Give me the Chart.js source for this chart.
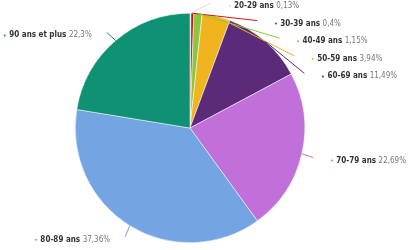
<!DOCTYPE html>
<html lang="fr">
<head>
    <meta charset="UTF-8">
    <title>Répartition par âge</title>
    <script src="https://cdn.jsdelivr.net/npm/chart.js"></script>
    <style>
        body { margin: 0; background: #fff; }
        #wrap { width: 416px; height: 250px; }
    </style>
</head>
<body>
    <div id="wrap"><canvas id="chartAge" width="416" height="250"></canvas></div>
    <script>
        // donnees
        let tranches = ["20-29 ans", "30-39 ans", "40-49 ans", "50-59 ans", "60-69 ans", "70-79 ans", "80-89 ans", "90 ans et plus"];
        let pourcentages = [0.13, 0.4, 1.15, 3.94, 11.49, 22.69, 37.36, 22.3];
        let couleurs = ["#dcdcdc", "#c8161d", "#8cc63f", "#f0b41e", "#5b2a78", "#c070d8", "#74a4e2", "#0e9273"];

        let police = "'DejaVu Sans Condensed', 'DejaVu Sans'";

        // etiquettes externes avec traits de liaison
        let etiquettes = {
            id: "etiquettes",
            afterDatasetsDraw(chart) {
                let ctx = chart.ctx;
                let arcs = chart.getDatasetMeta(0).data;
                let items = arcs.map((arc, i) => {
                    let mid = (arc.startAngle + arc.endAngle) / 2;
                    return { i, arc, mid, droite: Math.cos(mid) >= 0 };
                });
                let cx = arcs[0].x, cy = arcs[0].y, r = arcs[0].outerRadius;
                let R = r + 12;
                let ecart = 17.6;

                [true, false].forEach(cote => {
                    let groupe = items.filter(it => it.droite === cote);
                    groupe.forEach(it => { it.y = cy + R * Math.sin(it.mid) + 4; });
                    groupe.sort((a, b) => a.y - b.y);
                    let prev = -Infinity;
                    groupe.forEach(it => {
                        it.y = Math.max(it.y, prev + ecart, 6);
                        prev = it.y;
                    });
                });

                ctx.save();
                ctx.textBaseline = "middle";
                items.forEach(it => {
                    let couleur = couleurs[it.i];
                    let yFin = it.y - 3;
                    let dy = yFin - cy;
                    let dx = Math.sqrt(Math.max(0, R * R - dy * dy));
                    let xFin = it.droite ? cx + dx : cx - dx;
                    let xBord = cx + r * Math.cos(it.mid);
                    let yBord = cy + r * Math.sin(it.mid);

                    ctx.strokeStyle = couleur;
                    ctx.lineWidth = 1;
                    ctx.beginPath();
                    ctx.moveTo(xBord, yBord);
                    ctx.lineTo(xFin, yFin);
                    ctx.stroke();

                    let nom = tranches[it.i];
                    let val = String(pourcentages[it.i]).replace(".", ",") + "%";
                    ctx.font = "bold 8px " + police;
                    let wNom = ctx.measureText(nom + " ").width;
                    ctx.font = "8px " + police;
                    let wVal = ctx.measureText(val).width;

                    let xTexte = it.droite ? xFin + 23 : xFin - 15 - wNom - wVal;
                    ctx.fillStyle = couleur;
                    ctx.beginPath();
                    ctx.arc(xTexte - 4.5, it.y, 1, 0, Math.PI * 2);
                    ctx.fill();

                    ctx.font = "bold 8px " + police;
                    ctx.fillStyle = "#333";
                    ctx.fillText(nom, xTexte, it.y);
                    ctx.font = "8px " + police;
                    ctx.fillStyle = "#777";
                    ctx.fillText(val, xTexte + wNom, it.y);
                });
                ctx.restore();
            }
        };

        let ctx = document.getElementById("chartAge").getContext("2d");
        let chart = new Chart(ctx, {
            type: "pie",
            data: {
                labels: tranches,
                datasets: [{
                    data: pourcentages,
                    backgroundColor: couleurs,
                    borderColor: "#fff",
                    borderWidth: 0.5
                }]
            },
            options: {
                responsive: false,
                animation: false,
                layout: { padding: { left: 75, right: 111, top: 13, bottom: 7 } },
                plugins: {
                    legend: { display: false },
                    tooltip: { enabled: false }
                }
            },
            plugins: [etiquettes]
        });
    </script>
</body>
</html>
